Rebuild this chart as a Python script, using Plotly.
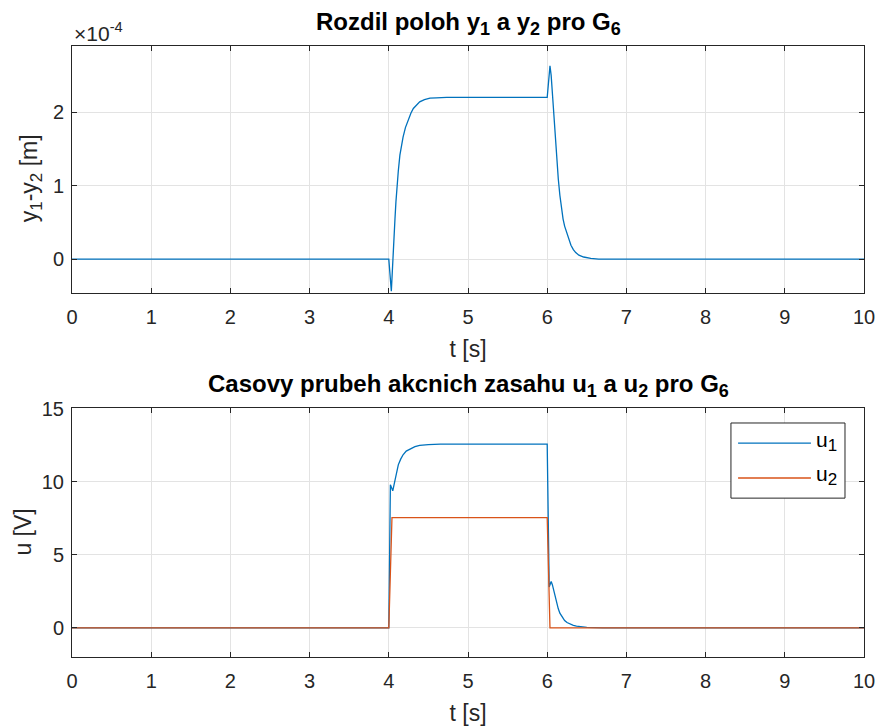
import plotly.graph_objects as go

# Position difference y1 - y2 [m] for controller G6
t_dy = [0.0, 4.0, 4.032, 4.045, 4.057, 4.068, 4.078, 4.09, 4.10, 4.12, 4.14, 4.16, 4.18,
        4.21, 4.25, 4.28, 4.31, 4.35, 4.39, 4.45, 4.52, 4.60, 4.73, 5.0, 6.0, 6.035, 6.05,
        6.07, 6.085, 6.10, 6.12, 6.14, 6.16, 6.18, 6.20, 6.22, 6.25, 6.27, 6.30, 6.33,
        6.36, 6.40, 6.46, 6.55, 6.65, 7.0, 10.0]
dy = [0.0, 0.0, -0.435e-4, -0.20e-4, 0.01e-4, 0.30e-4, 0.55e-4, 0.78e-4, 0.96e-4, 1.20e-4,
      1.415e-4, 1.55e-4, 1.66e-4, 1.79e-4, 1.91e-4, 1.99e-4, 2.05e-4, 2.10e-4, 2.14e-4,
      2.17e-4, 2.19e-4, 2.195e-4, 2.2e-4, 2.2e-4, 2.2e-4, 2.63e-4, 2.50e-4, 2.19e-4,
      1.92e-4, 1.64e-4, 1.32e-4, 1.09e-4, 0.87e-4, 0.70e-4, 0.55e-4, 0.45e-4, 0.34e-4,
      0.28e-4, 0.19e-4, 0.13e-4, 0.09e-4, 0.055e-4, 0.03e-4, 0.01e-4, 0.0, 0.0, 0.0]

# Control actions u1, u2 [V]
t_u1 = [0.0, 4.0, 4.02, 4.05, 4.08, 4.10, 4.12, 4.15, 4.18, 4.22, 4.27, 4.30, 4.33, 4.39,
        4.42, 4.50, 4.65, 5.0, 6.0, 6.025, 6.05, 6.065, 6.08, 6.10, 6.12, 6.14, 6.16, 6.19,
        6.22, 6.25, 6.29, 6.33, 6.37, 6.43, 6.50, 6.60, 6.70, 10.0]
u1 = [0.0, 0.0, 9.79, 9.38, 10.14, 10.70, 11.16, 11.55, 11.85, 12.10, 12.26, 12.34, 12.40,
      12.49, 12.51, 12.55, 12.58, 12.58, 12.58, 2.79, 3.17, 2.95, 2.60, 2.15, 1.69, 1.30,
      1.00, 0.70, 0.50, 0.36, 0.25, 0.17, 0.12, 0.07, 0.03, 0.01, 0.0, 0.0]

t_u2 = [0.0, 4.0, 4.04, 6.0, 6.035, 10.0]
u2 = [0.0, 0.0, 7.55, 7.55, 0.0, 0.0]

x_ticks = list(range(0, 11))
dy_ticks = [0.0, 1e-4, 2e-4]
dy_tick_text = ["0", "1", "2"]
u_ticks = [0, 5, 10, 15]

BLUE = "#0072BD"
ORANGE = "#D95319"
AX = "#262626"
GRID = "#e3e3e3"
FONT = "Liberation Sans, Arial, Helvetica, sans-serif"
TICK_SIZE = 20
LABEL_SIZE = 23
TITLE_SIZE = 24


def sub(s, px=17):
    """Subscript a little larger than plotly's default 70 %."""
    return "<sub><span style='font-size:%dpx'>%s</span></sub>" % (px, s)


fig = go.Figure()
fig.add_trace(go.Scatter(x=t_dy, y=dy, mode="lines", line=dict(color=BLUE, width=1.3),
                         xaxis="x", yaxis="y", showlegend=False))
fig.add_trace(go.Scatter(x=t_u1, y=u1, mode="lines", line=dict(color=BLUE, width=1.3),
                         xaxis="x2", yaxis="y2", showlegend=False))
fig.add_trace(go.Scatter(x=t_u2, y=u2, mode="lines", line=dict(color=ORANGE, width=1.3),
                         xaxis="x2", yaxis="y2", showlegend=False))

axis_common = dict(showline=True, linecolor=AX, linewidth=1, mirror="ticks",
                   ticks="inside", ticklen=5, tickcolor=AX, showgrid=True,
                   gridcolor=GRID, gridwidth=1, zeroline=False, automargin=False,
                   tickfont=dict(family=FONT, size=TICK_SIZE, color=AX))
x_common = dict(axis_common, ticklabelstandoff=6, domain=[0, 1], range=[0, 10],
                tickvals=x_ticks,
                title=dict(text="t [s]", font=dict(size=LABEL_SIZE, color=AX), standoff=13))
y_common = dict(axis_common, ticklabelstandoff=3)

TOP_DOM = [0.5957, 1.0]
BOT_DOM = [0.0, 0.4075]

fig.update_layout(
    width=877, height=727,
    margin=dict(l=72, r=13, t=46, b=70, autoexpand=False),
    plot_bgcolor="white", paper_bgcolor="white",
    font=dict(family=FONT, color=AX),
    xaxis=dict(x_common, anchor="y"),
    yaxis=dict(y_common, domain=TOP_DOM, anchor="x", range=[-0.46e-4, 2.9e-4],
               tickvals=dy_ticks, ticktext=dy_tick_text),
    xaxis2=dict(x_common, anchor="y2"),
    yaxis2=dict(y_common, domain=BOT_DOM, anchor="x2", range=[-2, 15.05],
                tickvals=u_ticks),
)

# Y axis labels
fig.add_annotation(text="y" + sub("1") + "-y" + sub("2") + " [m]", textangle=-90,
                   xref="paper", yref="paper", x=-0.052, y=sum(TOP_DOM) / 2,
                   xanchor="center", yanchor="middle", yshift=-9, showarrow=False,
                   font=dict(family=FONT, size=LABEL_SIZE, color=AX))
fig.add_annotation(text="u [V]", textangle=-90,
                   xref="paper", yref="paper", x=-0.063, y=sum(BOT_DOM) / 2,
                   xanchor="center", yanchor="middle", showarrow=False,
                   font=dict(family=FONT, size=LABEL_SIZE, color=AX))

# Subplot titles and the exponent note of the upper y axis
fig.add_annotation(text="<b>Rozdil poloh y" + sub("1", 18) + " a y" + sub("2", 18)
                        + " pro G" + sub("6", 18) + "</b>",
                   xref="paper", yref="paper", x=0.5, y=TOP_DOM[1], xanchor="center",
                   yanchor="bottom", yshift=5, showarrow=False,
                   font=dict(family=FONT, size=TITLE_SIZE, color="black"))
fig.add_annotation(text="<b>Casovy prubeh akcnich zasahu u" + sub("1", 18) + " a u" + sub("2", 18)
                        + " pro G" + sub("6", 18) + "</b>",
                   xref="paper", yref="paper", x=0.5, y=BOT_DOM[1], xanchor="center",
                   yanchor="bottom", yshift=5, showarrow=False,
                   font=dict(family=FONT, size=TITLE_SIZE, color="black"))
fig.add_annotation(text="\u00d710<sup>-4</sup>", xref="paper", yref="paper", x=0.0, y=TOP_DOM[1],
                   xanchor="left", yanchor="bottom", yshift=-1, showarrow=False,
                   font=dict(family=FONT, size=21, color=AX))

# Legend box for the lower panel
fig.add_shape(type="rect", xref="paper", yref="paper", x0=0.832, x1=0.976, y0=0.260, y1=0.383,
              line=dict(color=AX, width=1), fillcolor="white", layer="above")
for name, color, yy in [("u" + sub("1"), BLUE, 0.350), ("u" + sub("2"), ORANGE, 0.293)]:
    fig.add_shape(type="line", xref="paper", yref="paper", x0=0.841, x1=0.933, y0=yy, y1=yy,
                  line=dict(color=color, width=1.3), layer="above")
    fig.add_annotation(text=name, xref="paper", yref="paper", x=0.937, y=yy,
                       xanchor="left", yanchor="middle", yshift=2, showarrow=False,
                       font=dict(family=FONT, size=21, color="black"))

fig.write_html("out.html")
